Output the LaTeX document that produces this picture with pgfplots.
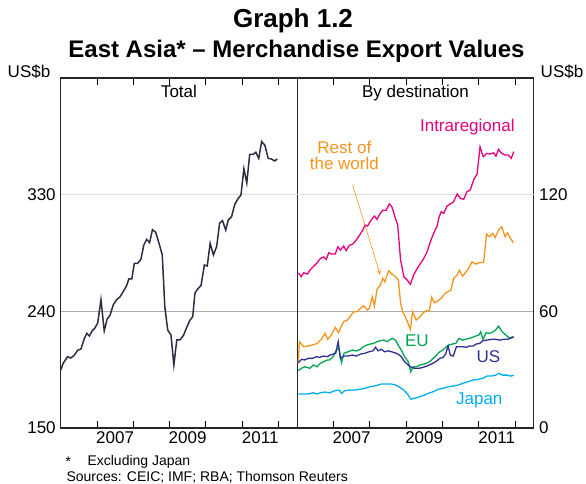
\documentclass[border=0pt]{standalone}
\usepackage{pgfplots}
\pgfplotsset{compat=1.18}
\usetikzlibrary{arrows.meta}
\usepackage{fontspec}
\setmainfont{Liberation Sans}
\definecolor{totc}{HTML}{2B2D42}
\definecolor{intra}{HTML}{E6007E}
\definecolor{row}{HTML}{F7941D}
\definecolor{euc}{HTML}{00A651}
\definecolor{usc}{HTML}{2E3192}
\definecolor{jpc}{HTML}{00AEEF}
\newcommand{\tk}{\fontsize{17}{17}\selectfont}
\pgfplotsset{
  panel/.style={
    scale only axis, anchor=south west,
    width=236.5pt, height=350pt,
    xmin=2006, xmax=2012.52,
    xtick={2007.5,2009.5,2011.5}, xticklabels={2007,2009,2011},
    major x tick style={draw=none},
    minor xtick={2007,2008,2009,2010,2011,2012},
    minor tick length=7pt, tick align=inside,
    minor x tick style={black, line width=0.6pt},
    y tick style={draw=none},
    ymajorgrids, grid style={gray!65, line width=0.8pt},
    extra y tick style={grid style={gray!28, line width=1.6pt}},
    tick label style={font=\tk},
    /pgf/number format/assume math mode=true,
    axis line style={black!85, line width=1.1pt},
    clip=false,
  }
}
\begin{document}
\begin{tikzpicture}
\path[use as bounding box] (0,0) rectangle (586pt,483pt);
\node at (293pt,462pt) {\fontsize{26}{26}\selectfont\bfseries Graph 1.2};
\node at (296.5pt,432pt) {\fontsize{24}{24}\selectfont\bfseries East Asia* – Merchandise Export Values};
\node at (29pt,411pt) {\tk US\$b};
\node at (562pt,411pt) {\tk US\$b};
\node[anchor=west] at (62pt,21pt) {\fontsize{14}{14}\selectfont *};
\node[anchor=west] at (84pt,21pt) {\fontsize{14}{14}\selectfont Excluding Japan};
\node[anchor=west] at (63pt,6pt) {\fontsize{14}{14}\selectfont Sources: CEIC; IMF; RBA; Thomson Reuters};

\begin{axis}[panel, at={(60.7pt,55pt)},
  ymin=150, ymax=420, ytick={150,240}, extra y ticks={330},
  ytick pos=left, yticklabel style={xshift=-1.5pt}]
\addplot[totc, line width=1.5pt, no marks] coordinates {
(2006.00,194.7)(2006.07,200)(2006.19,205)(2006.28,204)(2006.37,206)(2006.47,210)(2006.56,211)(2006.65,219)(2006.72,223)(2006.79,221)(2006.87,225)(2006.94,227)(2007.02,231)(2007.11,249)(2007.20,225)(2007.28,234)(2007.36,237)(2007.45,245)(2007.54,249)(2007.63,251)(2007.72,255)(2007.82,260)(2007.88,265)(2007.96,265)(2008.03,277)(2008.12,277)(2008.21,280)(2008.29,291)(2008.37,295.5)(2008.45,293)(2008.53,303)(2008.62,301)(2008.71,292.5)(2008.80,283.5)(2008.87,243.6)(2008.95,225.6)(2009.04,221.7)(2009.12,198.6)(2009.20,218)(2009.29,218)(2009.39,221.7)(2009.48,228)(2009.56,233)(2009.64,236)(2009.70,254)(2009.77,257)(2009.87,260)(2009.96,275.7)(2010.04,275)(2010.12,292.5)(2010.21,283.5)(2010.30,290)(2010.38,308)(2010.46,310)(2010.55,302.7)(2010.62,310.5)(2010.71,313)(2010.80,322.6)(2010.89,327)(2010.97,329.7)(2011.05,350)(2011.13,339)(2011.21,361)(2011.30,361)(2011.38,362.7)(2011.46,358)(2011.54,371)(2011.63,368)(2011.72,358)(2011.81,357.5)(2011.90,356)(2011.97,357.5)
};
\node[anchor=north, font=\tk] at (rel axis cs:0.5,1) [yshift=-4pt] {Total};
\end{axis}

\begin{axis}[panel, at={(297.2pt,55pt)},
  ymin=0, ymax=180, ytick={0,60}, extra y ticks={120},
  ytick pos=right, yticklabel style={anchor=west, xshift=2pt}]
\addplot[intra, line width=1.3pt, no marks] coordinates {
(2006.04,79.8)(2006.11,77.8)(2006.18,79.8)(2006.28,79.2)(2006.37,81.6)(2006.46,83.3)(2006.55,85)(2006.64,87.2)(2006.73,88)(2006.80,86.7)(2006.87,90.1)(2006.95,89.5)(2007.05,89.5)(2007.12,93.2)(2007.19,91.5)(2007.28,93.6)(2007.35,91.2)(2007.44,94)(2007.53,94.6)(2007.63,96.7)(2007.72,99.2)(2007.81,101.8)(2007.87,104.4)(2007.94,103.9)(2008.04,106.9)(2008.13,109)(2008.20,107.3)(2008.29,110.4)(2008.36,112)(2008.45,112)(2008.54,115.2)(2008.61,113.8)(2008.68,109.5)(2008.77,104.4)(2008.85,86.4)(2008.94,77.8)(2009.03,76.1)(2009.12,73.9)(2009.21,78.7)(2009.31,82.1)(2009.40,84.7)(2009.49,87.2)(2009.58,90.6)(2009.67,95.8)(2009.76,100.1)(2009.86,103.9)(2009.90,107.8)(2009.97,111.2)(2010.04,110.4)(2010.13,114.1)(2010.22,115.2)(2010.31,116.3)(2010.41,120.3)(2010.50,118.1)(2010.59,117.6)(2010.68,121.5)(2010.77,122.4)(2010.87,127.9)(2010.96,130.6)(2011.04,144.6)(2011.13,139.5)(2011.22,141.2)(2011.32,140.9)(2011.41,141.5)(2011.48,139.8)(2011.55,143.3)(2011.64,141.2)(2011.73,140.4)(2011.82,140.4)(2011.90,138.7)(2011.97,142.1)
};
\addplot[row, line width=1.3pt, no marks] coordinates {
(2006.03,33.3)(2006.06,44.4)(2006.18,41.8)(2006.29,42.2)(2006.43,42.7)(2006.55,43.5)(2006.66,45.6)(2006.77,48.7)(2006.84,45.6)(2006.94,47.8)(2007.05,51.8)(2007.14,49)(2007.21,52.1)(2007.28,54.7)(2007.38,55.5)(2007.47,57.6)(2007.56,59.8)(2007.65,59.8)(2007.74,61.5)(2007.83,62.9)(2007.93,60.7)(2007.99,61.5)(2008.07,67.5)(2008.13,62.7)(2008.20,71.3)(2008.29,73.5)(2008.36,77)(2008.42,75.2)(2008.52,80.9)(2008.61,79.2)(2008.70,78.1)(2008.79,76.1)(2008.85,64.1)(2008.91,59.8)(2009.00,56.4)(2009.12,50.7)(2009.18,59.8)(2009.28,55.5)(2009.37,56.9)(2009.46,59)(2009.55,60.3)(2009.64,60.3)(2009.71,67.2)(2009.78,64.4)(2009.87,65.3)(2009.97,66.7)(2010.06,68.9)(2010.15,70.1)(2010.24,70.9)(2010.31,77)(2010.41,78.7)(2010.47,81.2)(2010.56,78.1)(2010.66,80.4)(2010.75,82.9)(2010.82,85.5)(2010.91,84.3)(2011.02,85)(2011.14,85.2)(2011.22,99.7)(2011.30,98.4)(2011.39,100.1)(2011.46,98)(2011.55,101.8)(2011.64,103.5)(2011.73,98.4)(2011.80,100.4)(2011.88,97.5)(2011.96,95.3)
};
\addplot[euc, line width=1.3pt, no marks] coordinates {
(2006.03,29.5)(2006.12,30.7)(2006.21,31.5)(2006.35,30.7)(2006.44,32.4)(2006.55,31.5)(2006.64,33.3)(2006.73,34.1)(2006.83,35)(2006.90,35)(2006.99,36.7)(2007.08,40.1)(2007.15,41)(2007.22,33.6)(2007.29,38.4)(2007.40,39.2)(2007.52,40.1)(2007.63,39.6)(2007.74,40.5)(2007.82,41.8)(2007.93,42.7)(2008.02,43.2)(2008.11,43.5)(2008.20,44.4)(2008.29,44.9)(2008.39,45.2)(2008.48,44.4)(2008.57,45.6)(2008.64,46.1)(2008.72,44.9)(2008.78,42.7)(2008.87,40.1)(2008.96,36.7)(2009.06,34.1)(2009.13,28.9)(2009.20,31.5)(2009.29,31.5)(2009.38,32.4)(2009.47,32.7)(2009.56,33.3)(2009.65,34.1)(2009.75,35.8)(2009.84,37.5)(2009.93,39.2)(2010.02,40.1)(2010.11,41.8)(2010.19,42.7)(2010.28,43.2)(2010.37,43.5)(2010.46,46.1)(2010.55,45.2)(2010.64,45.6)(2010.74,46.1)(2010.83,46.6)(2010.92,47.3)(2011.01,47.8)(2011.06,49.5)(2011.12,45.6)(2011.21,49)(2011.31,48.7)(2011.40,49.5)(2011.47,50.4)(2011.55,52.4)(2011.65,49.5)(2011.75,47.8)(2011.86,46.1)(2011.97,46.6)
};
\addplot[usc, line width=1.3pt, no marks] coordinates {
(2006.03,33.6)(2006.12,35.3)(2006.21,35)(2006.30,35.8)(2006.42,35.8)(2006.53,36.7)(2006.62,36.3)(2006.72,37)(2006.83,36.7)(2006.90,37.5)(2006.99,38)(2007.06,38.4)(2007.13,44.4)(2007.19,35.8)(2007.28,37)(2007.40,37)(2007.52,37.5)(2007.63,37)(2007.74,38)(2007.86,38.4)(2007.98,39.2)(2008.09,39.7)(2008.16,41.5)(2008.23,39.7)(2008.32,40.5)(2008.41,39.2)(2008.51,39.7)(2008.60,39.2)(2008.69,38.7)(2008.78,38)(2008.87,36.7)(2008.96,34.1)(2009.06,32.4)(2009.15,31.2)(2009.24,30.7)(2009.36,30.7)(2009.47,31.2)(2009.58,31.9)(2009.70,32.9)(2009.82,34.1)(2009.93,35.8)(2010.02,36.3)(2010.09,38)(2010.16,42.2)(2010.22,37.5)(2010.30,37)(2010.39,41.8)(2010.48,41.8)(2010.57,41.8)(2010.66,41.5)(2010.75,42.2)(2010.85,42.2)(2010.94,43.2)(2011.03,43.5)(2011.12,44.9)(2011.23,45.2)(2011.35,45.6)(2011.47,45.6)(2011.58,45.2)(2011.69,45.6)(2011.81,45.6)(2011.90,46.6)(2011.97,46.9)
};
\addplot[jpc, line width=1.3pt, no marks] coordinates {
(2006.03,17.5)(2006.17,17.5)(2006.30,17.5)(2006.44,18.1)(2006.55,17.5)(2006.64,18.1)(2006.76,18.5)(2006.90,18.1)(2007.04,19.2)(2007.16,19.5)(2007.22,17.8)(2007.31,19.2)(2007.45,19.5)(2007.59,19.5)(2007.72,19.9)(2007.86,20.4)(2008.00,21.2)(2008.14,21.6)(2008.23,22.1)(2008.32,22.6)(2008.46,22.6)(2008.60,22.6)(2008.72,22.1)(2008.83,20.9)(2008.94,19.5)(2009.04,17.5)(2009.13,14.8)(2009.24,15.3)(2009.38,16.1)(2009.52,17)(2009.65,18.1)(2009.76,18.7)(2009.88,19.9)(2010.02,20.4)(2010.16,21.2)(2010.30,21.6)(2010.44,22.1)(2010.57,23)(2010.71,23.8)(2010.85,24.7)(2010.99,25)(2011.12,25.6)(2011.23,26.7)(2011.35,26.7)(2011.47,27.2)(2011.56,28.1)(2011.67,27.2)(2011.79,27.2)(2011.88,26.7)(2011.97,27.1)
};
\node[anchor=north, font=\tk] at (rel axis cs:0.5,1) [yshift=-4pt] {By destination};
\node[text=intra, font=\tk] at (axis cs:2010.69,154.8) {Intraregional};
\node[text=row, font=\tk, align=center] at (axis cs:2007.3,140.2) {Rest of\\[-1pt]the world};
\node[text=euc, font=\tk] at (axis cs:2009.30,44.9) {EU};
\node[text=usc, font=\tk] at (axis cs:2011.27,36.7) {US};
\node[text=jpc, font=\tk] at (axis cs:2011.02,14.4) {Japan};
\draw[row, line width=0.6pt, -{Stealth[length=5pt]}] (axis cs:2007.53,124.9) -- (axis cs:2008.29,78.7);
\end{axis}
\end{tikzpicture}
\end{document}
